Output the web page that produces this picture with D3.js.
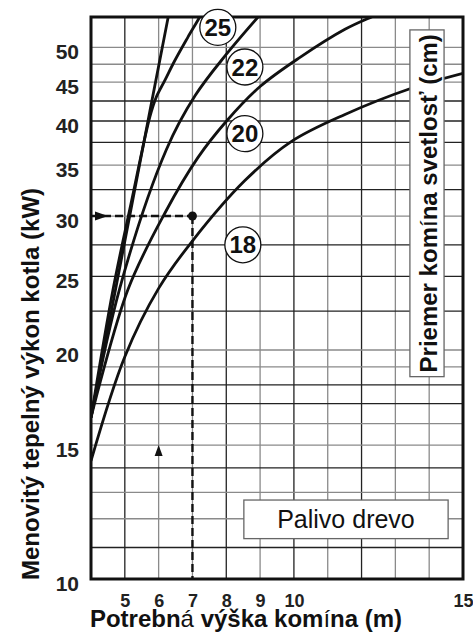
<!DOCTYPE html>
<html>
<head>
<meta charset="utf-8">
<script src="https://cdn.jsdelivr.net/npm/d3@7"></script>
<style>
  body { margin: 0; background: #fff; }
  svg { display: block; font-family: "Liberation Sans", Arial, sans-serif; }
</style>
</head>
<body>
<svg width="473" height="636"></svg>
<script>
const svg = d3.select('svg');
const width = +svg.attr('width');
const height = +svg.attr('height');

// tick labels and grid
const xTicks = [5, 6, 7, 8, 9, 10, 15];
const yTicks = [10, 15, 20, 25, 30, 35, 40, 45, 50];
const xGrid = [5, 6, 7, 8, 9, 10, 11, 12, 13, 14];
const yGrid = [11, 12, 13, 14, 15, 16, 17, 18, 19, 20, 22.5, 25, 27.5, 30, 32.5, 35, 37.5, 40, 42.5, 45, 47.5, 50];

// curves: [chimney height (m), boiler output (kW)]
const curveSteep = [[4, 16.3], [4.56, 22.0], [5.15, 30.1], [5.74, 41.2], [6.28, 54.7], [6.32, 56]];
const curve25 = [[4, 16.3], [4.65, 24.0], [5.18, 31.1], [5.74, 40.5], [5.93, 43.0], [6.18, 45.2], [6.475, 48.0], [6.87, 51.6], [7.21, 54.8], [7.3, 56]];
const curve22 = [[4, 16.3], [4.86, 24.2], [6.23, 36.7], [7.08, 43.2], [8.01, 49.0], [8.94, 54.8], [9.1, 55.8]];
const curve20 = [[4, 16.3], [5.09, 24.0], [6.19, 30.3], [7.16, 35.8], [8.01, 40.0], [9.0, 44.4], [10.18, 48.5], [11.51, 52.8], [12.25, 54.7], [12.6, 55.5]];
const curve18 = [[4, 14.3], [5.0, 19.6], [6.0, 24.1], [7.02, 27.9], [8.55, 33.4], [9.93, 37.6], [11.51, 40.8], [13.43, 44.1], [15, 46.2]];

// circle labels (diameter in cm) and where they sit
const labelText = ['25', '22', '20', '18'];
const labelX = [7.75, 8.55, 8.55, 8.49];
const labelY = [53.1, 47.1, 38.5, 27.5];

// worked example: 30 kW -> 7 m
const exampleHeight = 7;
const examplePower = 30;

const margin = { top: 17, right: 10, bottom: 57, left: 91 };
const innerWidth = width - margin.left - margin.right;
const innerHeight = height - margin.top - margin.bottom;

const xScale = d3.scaleLinear().domain([4, 15]).range([0, innerWidth]);
const yScale = d3.scaleLog().domain([10, 54.8]).range([innerHeight, 0]);

const g = svg.append('g').attr('transform', `translate(${margin.left}, ${margin.top})`);

g.append('clipPath').attr('id', 'plot-clip')
  .append('rect').attr('width', innerWidth).attr('height', innerHeight);

// grid
const darkX = new Set([5, 8, 10, 12]);
const darkY = new Set([11, 14, 17, 18, 22.5, 25, 27.5, 32.5, 37.5, 40, 42.5]);

g.append('g').selectAll('line').data(xGrid).enter().append('line')
  .attr('x1', d => xScale(d)).attr('x2', d => xScale(d))
  .attr('y1', 0).attr('y2', innerHeight)
  .attr('stroke', d => darkX.has(d) ? '#222' : '#8a8a8a')
  .attr('stroke-width', 1.3);

g.append('g').selectAll('line').data(yGrid).enter().append('line')
  .attr('y1', d => yScale(d)).attr('y2', d => yScale(d))
  .attr('x1', 0).attr('x2', innerWidth)
  .attr('stroke', d => darkY.has(d) ? '#222' : '#8a8a8a')
  .attr('stroke-width', 1.3);

// axes
const yAxisG = g.append('g')
  .call(d3.axisLeft(yScale).tickValues(yTicks).tickFormat(d3.format('d')).tickSize(0).tickPadding(12));
yAxisG.select('.domain').remove();
yAxisG.selectAll('text')
  .attr('dy', '0.55em')
  .attr('font-size', 21).attr('font-weight', 'bold')
  .attr('font-family', '"Liberation Sans", Arial, sans-serif').attr('fill', '#222');

const xAxisG = g.append('g')
  .attr('transform', `translate(0, ${innerHeight})`)
  .call(d3.axisBottom(xScale).tickValues(xTicks).tickFormat(d3.format('d')).tickSize(0).tickPadding(15));
xAxisG.select('.domain').remove();
xAxisG.selectAll('text')
  .attr('font-size', 18).attr('font-weight', 'bold')
  .attr('font-family', '"Liberation Sans", Arial, sans-serif').attr('fill', '#222');

// curves
const line = d3.line()
  .x(d => xScale(d[0]))
  .y(d => yScale(d[1]))
  .curve(d3.curveCatmullRom.alpha(0.5));

g.append('g').attr('clip-path', 'url(#plot-clip)')
  .selectAll('path')
  .data([curveSteep, curve25, curve22, curve20, curve18])
  .enter().append('path')
  .attr('d', line)
  .attr('fill', 'none')
  .attr('stroke', '#111')
  .attr('stroke-width', 2.8);

// worked example
g.append('line')
  .attr('x1', xScale(4)).attr('x2', xScale(exampleHeight))
  .attr('y1', yScale(examplePower)).attr('y2', yScale(examplePower))
  .attr('stroke', '#111').attr('stroke-width', 2.4).attr('stroke-dasharray', '8,4');
g.append('line')
  .attr('x1', xScale(exampleHeight)).attr('x2', xScale(exampleHeight))
  .attr('y1', yScale(examplePower)).attr('y2', innerHeight)
  .attr('stroke', '#111').attr('stroke-width', 2.4).attr('stroke-dasharray', '8,4');
g.append('circle')
  .attr('cx', xScale(exampleHeight)).attr('cy', yScale(examplePower))
  .attr('r', 4.5).attr('fill', '#111');

// arrowheads
const ax = xScale(4), ay = yScale(examplePower);
g.append('path')
  .attr('d', `M${ax + 4},${ay - 4.5}L${ax + 17},${ay}L${ax + 4},${ay + 4.5}Z`)
  .attr('fill', '#111');
const ux = xScale(6), uy = yScale(15);
g.append('path')
  .attr('d', `M${ux - 4},${uy + 11}L${ux},${uy}L${ux + 4},${uy + 11}Z`)
  .attr('fill', '#111');

// fuel box
const fx0 = xScale(8.52), fx1 = xScale(14.56), fy0 = yScale(12.7), fy1 = yScale(11.3);
g.append('rect')
  .attr('x', fx0).attr('y', fy0).attr('width', fx1 - fx0).attr('height', fy1 - fy0)
  .attr('fill', '#fff').attr('stroke', '#666').attr('stroke-width', 1.3);
g.append('text')
  .attr('x', (fx0 + fx1) / 2).attr('y', (fy0 + fy1) / 2)
  .attr('dy', '0.36em').attr('text-anchor', 'middle')
  .attr('font-size', 25).attr('fill', '#111')
  .text('Palivo drevo');

// diameter caption box
const dx0 = xScale(13.43), dx1 = xScale(14.44), dy0 = yScale(52.7), dy1 = yScale(18.45);
g.append('rect')
  .attr('x', dx0).attr('y', dy0).attr('width', dx1 - dx0).attr('height', dy1 - dy0)
  .attr('fill', '#fff').attr('stroke', '#666').attr('stroke-width', 1.3);
const capText = g.append('text')
  .attr('transform', `translate(${dx0 + 27}, ${(dy0 + dy1) / 2}) rotate(-90)`)
  .attr('text-anchor', 'middle')
  .attr('font-size', 24).attr('font-weight', 'bold').attr('fill', '#111');
capText.append('tspan').text('Priemer kom');
capText.append('tspan').attr('font-weight', 'normal').text('í');
capText.append('tspan').text('na svetlosť (cm)');

// frame
g.append('rect')
  .attr('width', innerWidth).attr('height', innerHeight)
  .attr('fill', 'none').attr('stroke', '#111').attr('stroke-width', 3);

// diameter labels
const labels = g.append('g').selectAll('g')
  .data(labelText).enter().append('g')
  .attr('transform', (d, i) => `translate(${xScale(labelX[i])}, ${yScale(labelY[i])})`);
labels.append('circle')
  .attr('r', 18).attr('fill', '#fff').attr('stroke', '#111').attr('stroke-width', 1.3);
labels.append('text')
  .attr('text-anchor', 'middle').attr('dy', '0.36em')
  .attr('font-size', 24).attr('font-weight', 'bold').attr('fill', '#111')
  .text(d => d);

// axis titles
const xTitle = svg.append('text')
  .attr('x', 246).attr('y', height - 9)
  .attr('text-anchor', 'middle')
  .attr('font-size', 24).attr('font-weight', 'bold').attr('fill', '#111');
xTitle.append('tspan').text('Potrebn');
xTitle.append('tspan').attr('font-weight', 'normal').text('á');
xTitle.append('tspan').text(' výška kom');
xTitle.append('tspan').attr('font-weight', 'normal').text('í');
xTitle.append('tspan').text('na (m)');

svg.append('text')
  .attr('transform', `translate(39, 384) rotate(-90)`)
  .attr('text-anchor', 'middle')
  .attr('font-size', 24).attr('font-weight', 'bold').attr('fill', '#111')
  .text('Menovitý tepelný výkon kotla (kW)');
</script>
</body>
</html>
